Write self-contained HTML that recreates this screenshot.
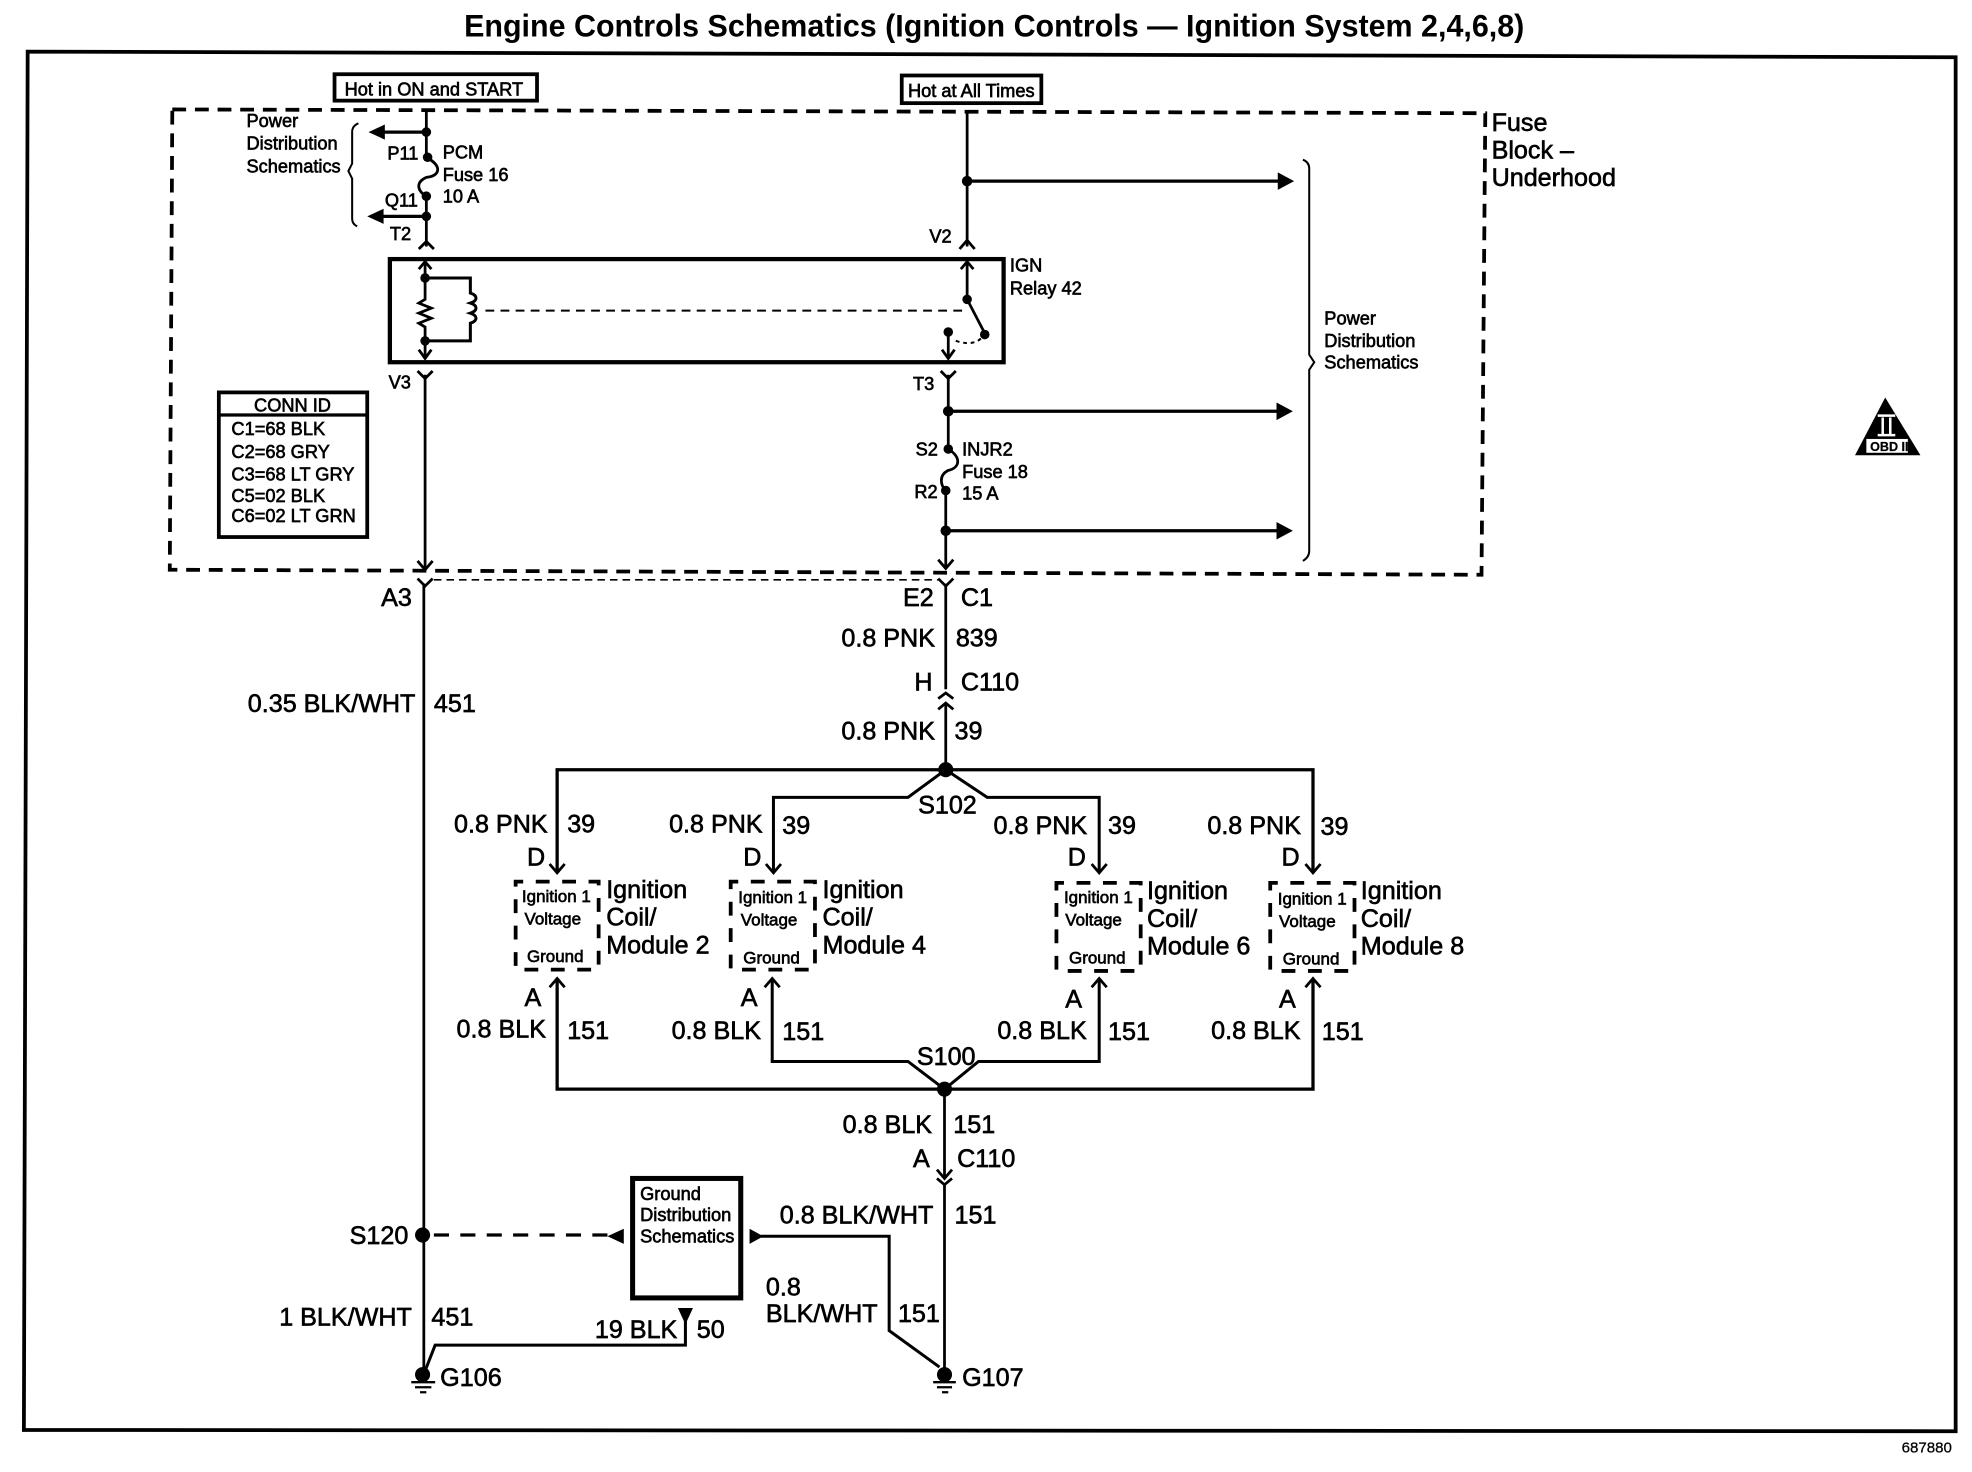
<!DOCTYPE html>
<html><head><meta charset="utf-8"><style>
html,body{margin:0;padding:0;background:#fff}
svg{display:block}
text{font-family:"Liberation Sans",sans-serif;fill:#000;stroke:#000;stroke-width:.5}
.l{font-size:20px}.s{font-size:14.5px}.m{font-size:13.5px}
</style></head><body>
<svg xmlns="http://www.w3.org/2000/svg" width="1972" height="1472" viewBox="0 0 1568 1170.4">
<rect width="1568" height="1171" fill="#fff"/>
<text x="369" y="29" font-size="25" font-weight="bold" textLength="843" lengthAdjust="spacingAndGlyphs" style="stroke-width:0">Engine Controls Schematics (Ignition Controls — Ignition System 2,4,6,8)</text>
<path d="M22 41L1555 45.5L1555 1138L19 1137Z" fill="none" stroke="#000" stroke-width="3"/>
<path d="M137 87L1181 90L1178 457L135 453Z" fill="none" stroke="#000" stroke-width="3" stroke-dasharray="11 7"/>
<g fill="none" stroke="#000" stroke-width="2.2">
<rect x="266" y="59" width="161" height="21" stroke-width="3"/>
<rect x="717" y="60" width="111" height="22" stroke-width="3"/>
<rect x="310" y="206" width="488" height="82" stroke-width="3.4"/>
<!-- left fuse wire -->
<path d="M339 88V125C352 132 350 140 339 141C330 145 332 152 339 156V196"/>
<path d="M339 105H298M339 172H298" stroke-width="2.6"/>
<path d="M333 198L339 192L345 198"/>
<!-- relay left -->
<path d="M338 208V238L333 241L343 245L333 249L343 253L333 257L338 260V284"/>
<path d="M333 214L338 208L343 214M333 278L338 285L343 278"/>
<path d="M338 221H374V233C380 235 380 239 374 241C380 243 380 247 374 249C380 251 380 255 374 257V271H338" stroke-width="2.4"/>
<path d="M386 247H767" stroke-width="1.6" stroke-dasharray="7 5"/>
<!-- relay right -->
<path d="M769 208V238L783 265"/>
<path d="M764 214L769 208L774 214M749 278L754 285L759 278"/>
<path d="M754 264V285"/>
<path d="M760 271Q775 276 782 267" stroke-width="1.6" stroke-dasharray="3 3"/>
<!-- upper right wire -->
<path d="M769 90V196"/>
<path d="M763 198L769 191L775 198"/>
<path d="M769 144H1018M754 327H1018M752 422H1018" stroke-width="2.6"/>
<!-- Y connectors -->
<path d="M332 295L338 301L344 295M748 295L754 301L760 295"/>
<path d="M338 298V453M332 446L338 453L344 446"/>
<path d="M754 298V357C765 364 763 372 754 374C746 378 748 386 752 390V452M746 445L752 452L758 445"/>
<path d="M332 460L338 466L344 460M746 460L752 466L758 460"/>
<path d="M337 464V1095"/>
<path d="M345 461H746" stroke-width="1.3" stroke-dasharray="6 4"/>
<path d="M752 464V548M752 559V612"/>
<path d="M746 555.5L752 551L758 555.5M746 564L752 559L758 564"/>
<!-- branch -->
<path d="M443 693V612H1044V693" stroke-width="2.6"/>
<path d="M615 693V634H722L752 612L785 634H874V693" stroke-width="2.4"/>
<path d="M437 687L443 694L449 687M609 687L615 694L621 687M868 687L874 694L880 687M1038 687L1044 694L1050 687"/>
<path d="M443 778V866H1044V778" stroke-width="2.6"/>
<path d="M614 778V844H722L751 866L778 844H874V778" stroke-width="2.4"/>
<path d="M437 785L443 778L449 785M608 785L614 778L620 785M868 785L874 778L880 785M1038 785L1044 778L1050 785"/>
<path d="M751 866V937M751 941V1090"/>
<path d="M745 930L751 937L757 930M745 937L751 942L757 937"/>
<!-- modules -->
<g stroke-width="3" stroke-dasharray="11 10" stroke-dashoffset="5">
<rect x="410" y="701" width="66" height="70"/>
<rect x="581" y="701" width="67" height="70"/>
<rect x="840" y="702" width="67" height="70"/>
<rect x="1010" y="702" width="67" height="70"/>
</g>
<!-- braces -->
<path d="M285 98Q280 100 280 105V130L277 136L280 142V174Q280 178 284 180" stroke-width="1.6"/>
<path d="M1036 127Q1041 129 1041 134V282L1045 288L1041 294V438Q1041 443 1036 446" stroke-width="1.6"/>
<!-- ground box -->
<rect x="503" y="937" width="86" height="95" stroke-width="4"/>
<path d="M345 982H485" stroke-width="2.6" stroke-dasharray="12 9"/>
<path d="M605 983H707V1058L747 1087" stroke-width="2.4"/>
<path d="M545 1050V1069.5H346L338 1090" stroke-width="2.4"/>
<!-- conn id -->
<rect x="174" y="312" width="118" height="115" stroke-width="3"/>
<path d="M174 330H292" stroke-width="2.6"/>
<!-- ground symbols -->
<path d="M327 1099H346M330 1103H343M334 1107H339M742 1099H760M745 1103H757M749 1107H754" stroke-width="1.8"/>
</g>
<!-- dots -->
<g fill="#000">
<circle cx="339" cy="105" r="3.8"/><circle cx="340" cy="125" r="3.8"/><circle cx="339" cy="156" r="3.8"/><circle cx="339" cy="172" r="3.8"/>
<circle cx="338" cy="221" r="3.8"/><circle cx="338" cy="271" r="3.8"/><circle cx="769" cy="238" r="3.8"/><circle cx="783" cy="266" r="3.8"/><circle cx="754" cy="264" r="3.8"/>
<circle cx="769" cy="144" r="4.2"/><circle cx="754" cy="327" r="4.2"/><circle cx="754" cy="357" r="3.8"/><circle cx="752" cy="390" r="3.8"/><circle cx="752" cy="422" r="4.2"/>
<circle cx="752" cy="612" r="6"/><circle cx="751" cy="866" r="6"/>
<circle cx="336" cy="982" r="6"/>
<circle cx="336" cy="1093" r="6"/><circle cx="751" cy="1093" r="6"/>
<path d="M293 105L306 99V111ZM292 172L305 166V178ZM1029 144L1016 137V151ZM1028 327L1015 320V334ZM1028 422L1015 415V429Z"/>
<path d="M483 983L496 977V989ZM607 983L596 977V989ZM545 1053L539 1040H551Z"/>
<path d="M1499 316L1475 362H1527Z"/>
</g>
<path d="M1493 330.5H1507M1497 332V345M1503 332V345M1493 346H1507" stroke="#fff" stroke-width="2" fill="none"/>
<rect x="1484" y="349" width="33" height="11" fill="#fff"/>
<text x="1487" y="358.5" font-size="10" style="stroke-width:.2" font-weight="bold">OBD II</text>

<text class="l" x="1186" y="104">Fuse</text><text class="l" x="1186" y="126">Block –</text><text class="l" x="1186" y="148">Underhood</text>
<text class="l" x="303" y="482">A3</text><text class="l" x="718" y="482">E2</text><text class="l" x="764" y="482">C1</text>
<text class="l" x="669" y="514">0.8 PNK</text><text class="l" x="760" y="514">839</text>
<text class="l" x="197" y="566">0.35 BLK/WHT</text><text class="l" x="345" y="566">451</text>
<text class="l" x="727" y="549">H</text><text class="l" x="764" y="549">C110</text>
<text class="l" x="669" y="588">0.8 PNK</text><text class="l" x="759" y="588">39</text>
<text class="l" x="730" y="647">S102</text>
<text class="l" x="361" y="662">0.8 PNK</text><text class="l" x="532" y="662">0.8 PNK</text><text class="l" x="790" y="663">0.8 PNK</text><text class="l" x="960" y="663">0.8 PNK</text>
<text class="l" x="451" y="662">39</text><text class="l" x="622" y="663">39</text><text class="l" x="881" y="663">39</text><text class="l" x="1050" y="664">39</text>
<text class="l" x="419" y="688">D</text><text class="l" x="591" y="688">D</text><text class="l" x="849" y="688">D</text><text class="l" x="1019" y="688">D</text>
<text class="l" x="482" y="714">Ignition</text><text class="l" x="482" y="736">Coil/</text><text class="l" x="482" y="758">Module 2</text>
<text class="l" x="654" y="714">Ignition</text><text class="l" x="654" y="736">Coil/</text><text class="l" x="654" y="758">Module 4</text>
<text class="l" x="912" y="715">Ignition</text><text class="l" x="912" y="737">Coil/</text><text class="l" x="912" y="759">Module 6</text>
<text class="l" x="1082" y="715">Ignition</text><text class="l" x="1082" y="737">Coil/</text><text class="l" x="1082" y="759">Module 8</text>
<text class="l" x="417" y="800">A</text><text class="l" x="589" y="800">A</text><text class="l" x="847" y="801">A</text><text class="l" x="1017" y="801">A</text>
<text class="l" x="363" y="825">0.8 BLK</text><text class="l" x="534" y="826">0.8 BLK</text><text class="l" x="793" y="826">0.8 BLK</text><text class="l" x="963" y="826">0.8 BLK</text>
<text class="l" x="451" y="826">151</text><text class="l" x="622" y="827">151</text><text class="l" x="881" y="827">151</text><text class="l" x="1051" y="827">151</text>
<text class="l" x="729" y="847">S100</text>
<text class="l" x="670" y="901">0.8 BLK</text><text class="l" x="758" y="901">151</text>
<text class="l" x="726" y="928">A</text><text class="l" x="761" y="928">C110</text>
<text class="l" x="620" y="973">0.8 BLK/WHT</text><text class="l" x="759" y="973">151</text>
<text class="l" x="278" y="989">S120</text>
<text class="l" x="222" y="1054">1 BLK/WHT</text><text class="l" x="343" y="1054">451</text>
<text class="l" x="609" y="1030">0.8</text><text class="l" x="609" y="1051">BLK/WHT</text><text class="l" x="714" y="1051">151</text>
<text class="l" x="473" y="1064">19 BLK</text><text class="l" x="554" y="1064">50</text>
<text class="l" x="350" y="1102">G106</text><text class="l" x="765" y="1102">G107</text>

<text class="s" x="274" y="76">Hot in ON and START</text><text class="s" x="722" y="77">Hot at All Times</text>
<text class="s" x="196" y="101">Power</text><text class="s" x="196" y="119">Distribution</text><text class="s" x="196" y="137">Schematics</text>
<text class="s" x="308" y="127">P11</text><text class="s" x="306" y="164">Q11</text><text class="s" x="310" y="191">T2</text>
<text class="s" x="352" y="126">PCM</text><text class="s" x="352" y="144">Fuse 16</text><text class="s" x="352" y="161">10 A</text>
<text class="s" x="739" y="193">V2</text><text class="s" x="803" y="216">IGN</text><text class="s" x="803" y="234">Relay 42</text>
<text class="s" x="309" y="309">V3</text><text class="s" x="726" y="310">T3</text>
<text class="s" x="1053" y="258">Power</text><text class="s" x="1053" y="276">Distribution</text><text class="s" x="1053" y="293">Schematics</text>
<text class="s" x="728" y="362">S2</text><text class="s" x="727" y="396">R2</text>
<text class="s" x="765" y="362">INJR2</text><text class="s" x="765" y="380">Fuse 18</text><text class="s" x="765" y="397">15 A</text>

<text class="s" x="202" y="327">CONN ID</text>
<text class="s" x="184" y="346">C1=68 BLK</text><text class="s" x="184" y="364">C2=68 GRY</text><text class="s" x="184" y="382">C3=68 LT GRY</text><text class="s" x="184" y="399">C5=02 BLK</text><text class="s" x="184" y="415">C6=02 LT GRN</text>

<text class="m" x="415" y="717">Ignition 1</text><text class="m" x="417" y="735">Voltage</text><text class="m" x="419" y="765">Ground</text>
<text class="m" x="587" y="718">Ignition 1</text><text class="m" x="589" y="736">Voltage</text><text class="m" x="591" y="766">Ground</text>
<text class="m" x="846" y="718">Ignition 1</text><text class="m" x="847" y="736">Voltage</text><text class="m" x="850" y="766">Ground</text>
<text class="m" x="1016" y="719">Ignition 1</text><text class="m" x="1017" y="737">Voltage</text><text class="m" x="1020" y="767">Ground</text>

<text class="s" x="509" y="954">Ground</text><text class="s" x="509" y="971">Distribution</text><text class="s" x="509" y="988">Schematics</text>
<text x="1512" y="1155" font-size="12" style="stroke-width:.2">687880</text>
</svg>
</body></html>
